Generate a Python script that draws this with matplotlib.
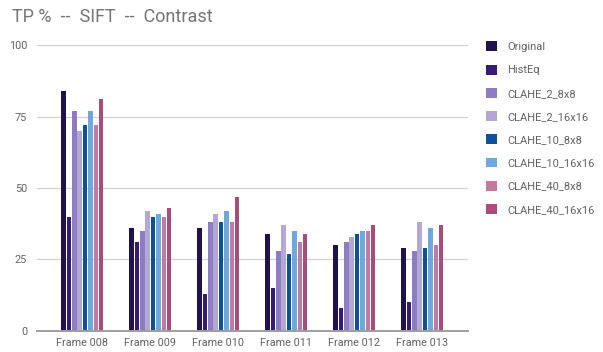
import numpy as np
import matplotlib.pyplot as plt

plt.rcParams['font.family'] = ['Roboto', 'DejaVu Sans']

# quadros avaliados e porcentagem de TP por variante de contraste
frames = ["Frame 008", "Frame 009", "Frame 010", "Frame 011", "Frame 012", "Frame 013"]
metodos = ["Original", "HistEq", "CLAHE_2_8x8", "CLAHE_2_16x16",
           "CLAHE_10_8x8", "CLAHE_10_16x16", "CLAHE_40_8x8", "CLAHE_40_16x16"]

original = [84, 36, 36, 34, 30, 29]
histeq = [40, 31, 13, 15, 8, 10]
clahe_2_8x8 = [77, 35, 38, 28, 31, 28]
clahe_2_16x16 = [70, 42, 41, 37, 33, 38]
clahe_10_8x8 = [72, 40, 38, 27, 34, 29]
clahe_10_16x16 = [77, 41, 42, 35, 35, 36]
clahe_40_8x8 = [72, 40, 38, 31, 35, 30]
clahe_40_16x16 = [81, 43, 47, 34, 37, 37]

series = [original, histeq, clahe_2_8x8, clahe_2_16x16,
          clahe_10_8x8, clahe_10_16x16, clahe_40_8x8, clahe_40_16x16]
cores = ["#20124d", "#351c75", "#8e7cc3", "#b4a7d6",
         "#0b5394", "#6fa8dc", "#c27ba0", "#a64d79"]

fig = plt.figure(figsize=(6.03, 3.52), dpi=100)
ax = fig.add_axes([0.061, 0.06, 0.715, 0.812])

x = np.arange(len(frames))
passo = 0.079
largura = 0.066
for i, (valores, cor, nome) in enumerate(zip(series, cores, metodos)):
    desloc = (i - 3.5) * passo
    ax.bar(x + desloc, valores, width=largura, color=cor, label=nome, zorder=3)

ax.set_xlim(-0.67, 5.67)
ax.set_ylim(0, 100)
ax.set_yticks([0, 25, 50, 75, 100])
ax.set_xticks(x)
ax.set_xticklabels(frames)
ax.tick_params(axis='both', length=0, labelsize=7.8, labelcolor="#616161")
ax.tick_params(axis='y', pad=7)
ax.tick_params(axis='x', pad=5)
ax.grid(axis='y', color="#d0d0d0", linewidth=0.9, zorder=0)
for lado in ["top", "right", "left"]:
    ax.spines[lado].set_visible(False)
ax.spines["bottom"].set_color("#9e9e9e")
ax.spines["bottom"].set_linewidth(1.4)
ax.spines["bottom"].set_zorder(4)

fig.text(0.02, 0.952, "TP %  --  SIFT  --  Contrast", fontsize=13,
         color="#757575", va="center", ha="left")

fig.legend(loc="upper left", bbox_to_anchor=(0.799, 0.895), frameon=False,
           fontsize=8, labelcolor="#616161", handlelength=1.0,
           handleheight=1.0, handletextpad=0.9, labelspacing=1.12,
           borderaxespad=0)

fig.savefig("out.png", dpi=100)
